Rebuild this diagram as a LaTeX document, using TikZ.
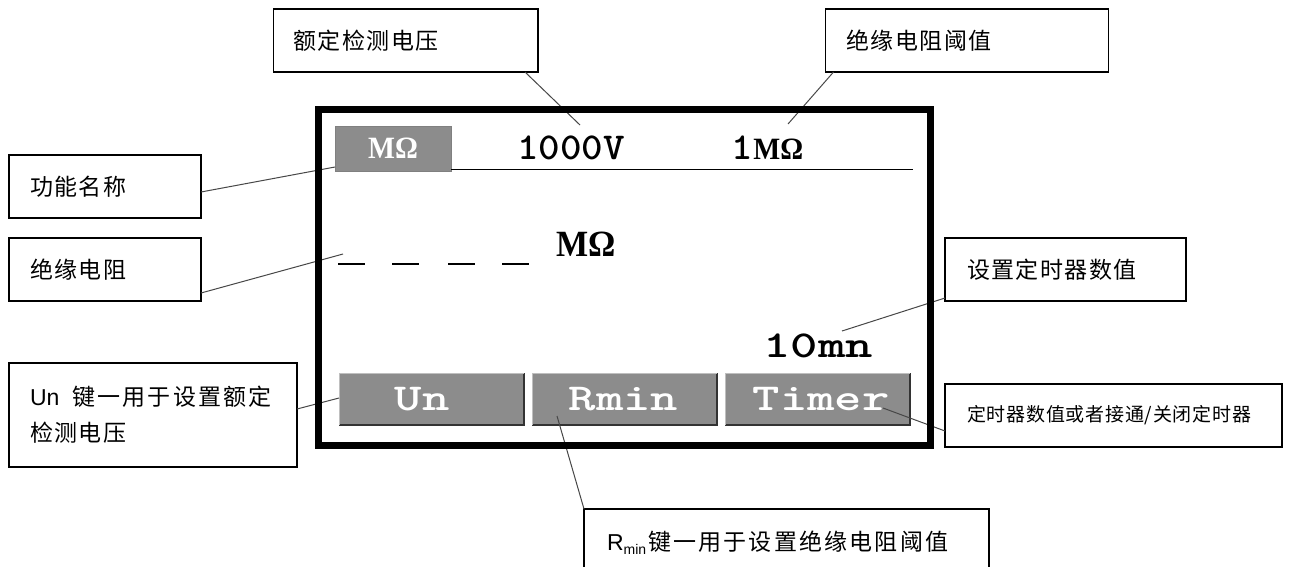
\documentclass[tikz,border=0pt]{standalone}
\usepackage{fontspec}
\usepackage{graphicx}
\setmainfont{Liberation Sans}
\newfontfamily\cjkA{Noto Sans CJK SC}[LetterSpace=6.5]
\newfontfamily\cjkB{Noto Sans CJK SC}[LetterSpace=4]
\newfontfamily\cjkC{Noto Sans CJK SC}[LetterSpace=9.5]
\newfontfamily\lcdserif{Liberation Serif}[BoldFont={Liberation Serif Bold}]
\newcommand{\capt}[1]{{\fontsize{23}{36}\selectfont\cjkA #1}}
\newcommand{\captwide}[1]{{\fontsize{23}{36}\selectfont\cjkC #1}}
\newcommand{\lcdtext}[2]{\scalebox{#1}[1]{\fontsize{38}{38}\selectfont\ttfamily\bfseries #2}}
\newcommand{\ohmtext}[1]{\scalebox{0.92}[1]{\fontsize{#1}{#1}\selectfont\lcdserif\bfseries M\symbol{"03A9}}}
\definecolor{keygray}{HTML}{8C8C8C}
\tikzset{
  callout/.style={draw=black, line width=1.3pt, fill=white, anchor=north west, inner xsep=0pt, inner ysep=0pt, outer sep=0pt, align=left},
  leader/.style={draw=black!72, line width=1pt},
  softkey/.style={fill=keygray, draw=keygray, anchor=north west, inner sep=0pt, outer sep=0pt, minimum width=185pt, minimum height=52pt},
  keytext/.style={text=white, inner sep=0pt, anchor=base},
  lcd/.style={text=black, inner sep=0pt, anchor=base},
}
\begin{document}
\begin{tikzpicture}[x=1pt,y=-1pt]
\useasboundingbox (0,0) rectangle (1289,566);
\clip (0,0) rectangle (1289,566);
\fill[white] (0,0) rectangle (1289,566);

% free ends of the leaders
\coordinate (endrated) at (580,125);
\coordinate (endthresh) at (788,124);
\coordinate (endfunc) at (335,167);
\coordinate (endres) at (343,254);
\coordinate (endun) at (339,398);
\coordinate (endrmin) at (557,416);
\coordinate (endtimerset) at (842,331);
\coordinate (endtimerkey) at (883,408);

% call-out boxes
\node[callout, text width=264.5pt, minimum height=63pt] (brated) at (273.5,9) {\hspace*{20pt}\capt{额定检测电压}};
\node[callout, text width=283pt, minimum height=63pt] (bthresh) at (825.5,9) {\hspace*{21pt}\capt{绝缘电阻阈值}};
\node[callout, text width=192pt, minimum height=63pt] (bfunc) at (9,155) {\hspace*{21pt}\capt{功能名称}};
\node[callout, text width=192pt, minimum height=63pt] (bres) at (9,238) {\hspace*{21pt}\capt{绝缘电阻}};
\node[callout, text width=288pt, minimum height=104pt, font=\fontsize{23}{36}\selectfont] (bun) at (9,363) {\hspace*{21pt}Un\hspace{13pt}\captwide{键一用于设置额定}\\\hspace*{21pt}\capt{检测电压}};
\node[callout, text width=241pt, minimum height=63pt] (bset) at (945,238) {\hspace*{22pt}\capt{设置定时器数值}};
\node[callout, text width=337pt, minimum height=63pt] (bkey) at (945,384) {\hspace*{22pt}{\fontsize{19}{24}\selectfont\cjkB 定时器数值或者接通/关闭定时器}};
\node[callout, text width=405pt, minimum height=68pt] (brmin) at (584,509) {\hspace*{23pt}{\fontsize{23}{30}\selectfont R\raisebox{-4pt}{\fontsize{14}{14}\selectfont min}\kern2pt\cjkC 键一用于设置绝缘电阻阈值}};

% function indicator and header rule
\node[softkey, minimum width=116pt, minimum height=45pt, draw=black!50] (keyfunc) at (335,126) {};
\coordinate (ruleend) at (913,169.5);
\draw[black, line width=1.2pt] (keyfunc.south east |- ruleend) -- (ruleend);

% soft keys
\foreach \nm/\xk in {keyun/339,keyrmin/532,keytimer/725}{
  \node[softkey] (\nm) at (\xk,373) {};
  \draw[black!80, line width=1.4pt] (\nm.north east) -- (\nm.south east) -- (\nm.south west);
  \draw[black!25, line width=0.8pt] (\nm.south west) -- (\nm.north west) -- (\nm.north east);
}

% leaders
\draw[leader] ([xshift=-13pt]brated.south east) -- (endrated);
\draw[leader] ([xshift=8pt]bthresh.south west) -- (endthresh);
\draw[leader] ([yshift=26pt]bfunc.south east) -- (endfunc);
\draw[leader] ([yshift=8pt]bres.south east) -- (endres);
\draw[leader] ([yshift=58pt]bun.south east) -- (endun);
\draw[leader] (brmin.north west) -- (endrmin);
\draw[leader] ([yshift=3pt]bset.south west) -- (endtimerset);
\draw[leader] ([yshift=16pt]bkey.south west) -- (endtimerkey);

% instrument screen
\node[draw=black, line width=7pt, minimum width=612pt, minimum height=336pt, inner sep=0pt, outer sep=0pt, anchor=north west] (screen) at (318,109) {};

% header texts
\node[keytext] (ohmkey) at (393,158) {\ohmtext{31}};
\node[lcd] (volt) at (571,159.5) {\lcdtext{1.08}{1000V}};
\node[lcd] (thr) at (767.5,159.5) {\lcdtext{1.08}{1}\ohmtext{31}};

% reading
\node[lcd] (ohmread) at (586,256) {\ohmtext{37}};
\foreach \xa/\xb [count=\i] in {338/365,392/419,448/475,502/529}{
  \coordinate (da\i) at (\xa,264);
  \coordinate (db\i) at (\xb,264);
  \draw[black, line width=1.2pt] (da\i) -- (db\i);
}
\node[lcd] (mins) at (818,357) {\lcdtext{1.37}{10mn}};

% soft key labels
\node[keytext] (lblun) at (422,410) {\lcdtext{1.37}{Un}};
\node[keytext] (lblrmin) at (623.5,410) {\lcdtext{1.37}{Rmin}};
\node[keytext] (lbltimer) at (821,410) {\lcdtext{1.37}{Timer}};
\end{tikzpicture}
\end{document}
